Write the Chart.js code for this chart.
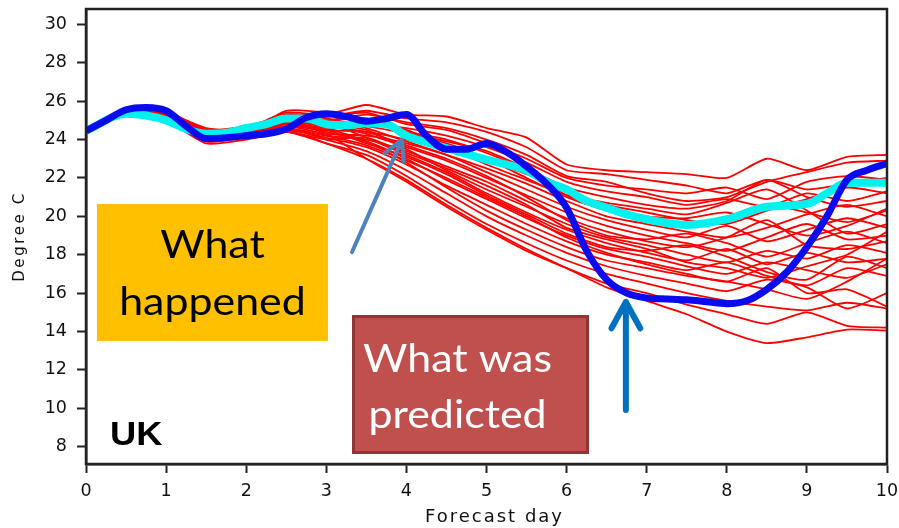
<!DOCTYPE html>
<html>
<head>
<meta charset="utf-8">
<script src="https://cdn.jsdelivr.net/npm/chart.js@4.4.1/dist/chart.umd.min.js"></script>
<style>
  html, body { margin: 0; padding: 0; background: #fff; }
  #wrap { width: 899px; height: 528px; }
</style>
</head>
<body>
<div id="wrap"><canvas id="c" width="899" height="528"></canvas></div>
<script>
// Forecast days for the ensemble members (12-hourly steps)
const days = [0, 0.5, 1, 1.5, 2, 2.5, 3, 3.5, 4, 4.5, 5, 5.5, 6, 6.5, 7, 7.5, 8, 8.5, 9, 9.5, 10];

// Observed temperature ("what happened")
const observedDays = [0, 0.25, 0.5, 0.75, 1, 1.25, 1.5, 1.75, 2, 2.25, 2.5, 2.75, 3, 3.25, 3.5, 3.75, 4, 4.25, 4.5, 4.75, 5,
  5.25, 5.5, 5.75, 6, 6.25, 6.5, 6.75, 7, 7.25, 7.5, 7.75, 8, 8.25, 8.5, 8.75, 9, 9.25, 9.5, 9.75, 10];
const observedTemp = [24.45, 25.0, 25.55, 25.67, 25.5, 24.7, 24.05, 24.1, 24.2, 24.3, 24.55, 25.15, 25.35, 25.2, 24.95, 25.1, 25.3,
  24.2, 23.5, 23.5, 23.8, 23.35, 22.6, 21.7, 20.45, 18.2, 16.7, 16.0, 15.75, 15.7, 15.65, 15.55, 15.45, 15.6, 16.2, 17.1,
  18.4, 20.0, 21.9, 22.4, 22.75];

// Ensemble mean
const meanDays = [0, 0.5, 0.75, 1, 1.25, 1.5, 1.75, 2, 2.25, 2.5, 2.75, 3, 3.25, 3.5, 3.75, 4, 4.25, 4.5, 4.75, 5, 5.25, 5.5,
  5.75, 6, 6.25, 6.5, 6.75, 7, 7.5, 8, 8.5, 9, 9.25, 9.5, 10];
const meanTemp = [24.45, 25.35, 25.25, 25.0, 24.55, 24.3, 24.35, 24.6, 24.8, 25.1, 25.1, 24.8, 24.75, 24.85, 24.8, 24.2, 23.85,
  23.55, 23.25, 22.95, 22.7, 22.4, 21.8, 21.4, 20.8, 20.45, 20.1, 19.85, 19.55, 19.85, 20.5, 20.65, 21.2, 21.75, 21.75];

// Ensemble members ("what was predicted")
const member01 = [24.45, 25.5, 25.5, 24.5, 24.6, 25.4, 25.3, 25.8, 25.3, 25.2, 24.6, 24.1, 22.7, 22.4, 22.3, 22.2, 22.0, 23.0, 22.4, 23.1, 23.2];
const member02 = [24.45, 25.4, 25.3, 24.3, 24.5, 25.3, 25.2, 25.5, 25.1, 24.9, 24.4, 23.6, 22.4, 22.2, 21.9, 21.6, 21.2, 21.9, 21.4, 21.7, 22.0];
const member03 = [24.45, 25.3, 25.1, 24.0, 24.3, 25.2, 25.0, 25.3, 24.9, 24.6, 24.0, 23.2, 22.1, 21.8, 21.2, 20.8, 21.0, 21.8, 22.3, 22.8, 22.9];
const member04 = [24.45, 25.5, 25.4, 24.6, 24.5, 24.9, 24.6, 24.8, 24.6, 24.2, 23.6, 22.8, 21.8, 21.3, 21.0, 20.6, 20.9, 20.5, 21.2, 20.8, 21.3];
const member05 = [24.45, 25.4, 25.2, 24.2, 24.4, 25.5, 25.4, 25.0, 24.4, 23.9, 23.4, 22.5, 21.5, 21.0, 20.6, 20.4, 20.8, 21.9, 21.0, 20.5, 20.8];
const member06 = [24.45, 25.3, 25.0, 23.9, 24.2, 24.8, 24.5, 24.4, 24.0, 23.5, 22.9, 22.2, 21.3, 20.6, 20.2, 19.8, 19.6, 20.3, 20.9, 21.5, 21.2];
const member07 = [24.45, 25.6, 25.5, 24.4, 24.6, 25.1, 24.9, 24.7, 24.3, 23.8, 23.0, 22.0, 21.0, 20.3, 19.9, 19.5, 19.9, 20.6, 20.2, 19.7, 20.3];
const member08 = [24.45, 25.4, 25.1, 24.1, 24.3, 24.7, 24.3, 24.2, 23.8, 23.2, 22.5, 21.7, 20.8, 20.0, 19.6, 19.2, 18.9, 19.4, 20.1, 20.6, 20.0];
const member09 = [24.45, 25.3, 25.2, 24.3, 24.5, 25.3, 25.1, 24.6, 23.9, 23.2, 22.3, 21.4, 20.5, 19.8, 19.3, 18.9, 19.5, 18.7, 19.3, 19.9, 19.4];
const member10 = [24.45, 25.5, 25.3, 24.0, 24.2, 24.9, 24.7, 24.3, 23.6, 22.9, 22.0, 21.1, 20.2, 19.5, 19.0, 18.6, 18.2, 18.9, 19.6, 18.8, 19.0];
const member11 = [24.45, 25.4, 25.2, 24.4, 24.4, 24.6, 24.2, 24.0, 23.4, 22.6, 21.8, 20.8, 19.9, 19.2, 18.7, 18.4, 18.9, 19.8, 18.5, 18.3, 18.7];
const member12 = [24.45, 25.3, 25.0, 24.0, 24.3, 25.0, 24.8, 24.5, 23.5, 22.4, 21.4, 20.5, 19.6, 18.9, 18.5, 18.0, 17.6, 18.2, 17.8, 18.5, 18.1];
const member13 = [24.45, 25.5, 25.4, 24.5, 24.7, 25.2, 24.9, 24.1, 23.2, 22.3, 21.2, 20.2, 19.3, 18.6, 18.1, 17.7, 18.3, 17.5, 18.1, 17.6, 17.8];
const member14 = [24.45, 25.4, 25.1, 24.2, 24.4, 24.8, 24.4, 23.9, 23.0, 21.9, 20.9, 19.9, 19.0, 18.3, 17.9, 17.4, 17.0, 17.6, 17.2, 16.8, 17.5];
const member15 = [24.45, 25.3, 25.2, 24.1, 24.2, 24.5, 24.1, 23.6, 22.7, 21.6, 20.6, 19.6, 18.7, 18.0, 17.6, 17.2, 17.6, 16.9, 16.4, 17.3, 16.9];
const member16 = [24.45, 25.6, 25.5, 24.4, 24.5, 25.0, 24.6, 23.9, 22.8, 21.5, 20.3, 19.3, 18.4, 17.7, 17.3, 16.9, 16.6, 16.2, 15.7, 16.6, 17.8];
const member17 = [24.45, 25.4, 25.2, 24.2, 24.3, 24.6, 24.0, 23.4, 22.4, 21.2, 20.0, 19.0, 18.1, 17.4, 16.9, 16.5, 16.1, 16.7, 16.3, 15.2, 16.0];
const member18 = [24.45, 25.3, 25.1, 23.9, 24.1, 24.4, 23.8, 23.2, 22.1, 20.8, 19.6, 18.6, 17.7, 17.0, 16.5, 16.0, 15.6, 15.3, 15.1, 15.5, 15.2];
const member19 = [24.45, 25.5, 25.3, 24.3, 24.6, 24.9, 24.3, 23.0, 21.8, 20.5, 19.3, 18.2, 17.3, 16.5, 16.0, 15.4, 14.9, 14.4, 15.0, 14.3, 14.2];
const member20 = [24.45, 25.4, 25.2, 24.1, 24.3, 24.5, 23.8, 23.0, 21.9, 20.6, 19.4, 18.3, 17.3, 16.3, 15.6, 14.9, 14.0, 13.4, 13.7, 14.1, 14.05];
const member21 = [24.45, 25.5, 25.4, 24.5, 24.6, 25.3, 25.2, 25.4, 24.8, 24.5, 23.8, 23.0, 22.0, 21.6, 21.4, 21.2, 21.5, 20.9, 21.8, 22.1, 21.9];
const member22 = [24.45, 25.3, 25.1, 24.0, 24.2, 24.7, 24.5, 24.9, 24.4, 24.0, 23.3, 22.4, 21.1, 20.4, 20.0, 19.9, 20.2, 19.6, 19.0, 19.5, 20.4];
const member23 = [24.45, 25.4, 25.3, 24.2, 24.4, 25.0, 24.7, 24.4, 23.7, 23.0, 22.1, 21.0, 19.8, 19.0, 18.8, 19.1, 18.6, 17.9, 18.6, 19.2, 18.6];
const member24 = [24.45, 25.4, 25.2, 24.3, 24.5, 24.8, 24.5, 23.8, 23.1, 22.2, 21.1, 20.1, 19.1, 18.4, 18.2, 18.5, 17.9, 17.1, 16.7, 17.9, 17.3];
const member25 = [24.45, 25.5, 25.3, 24.2, 24.3, 25.1, 25.0, 25.1, 24.5, 23.6, 22.7, 21.9, 21.1, 20.7, 20.4, 20.1, 20.7, 21.4, 20.3, 19.1, 19.6];
const member26 = [24.45, 25.3, 25.0, 23.8, 24.0, 24.4, 24.0, 24.1, 23.3, 22.5, 21.6, 20.6, 19.4, 18.8, 18.3, 17.6, 17.3, 16.8, 17.4, 18.0, 19.2];
const member27 = [24.45, 25.4, 25.2, 24.1, 24.3, 24.6, 24.2, 23.7, 22.9, 22.0, 21.0, 20.0, 18.9, 18.1, 17.5, 17.0, 16.6, 17.3, 16.0, 16.2, 15.3];
const members = [member01, member02, member03, member04, member05, member06, member07, member08, member09,
  member10, member11, member12, member13, member14, member15, member16, member17, member18, member19,
  member20, member21, member22, member23, member24, member25, member26, member27];

// Axis ticks
const xTicks = [0, 1, 2, 3, 4, 5, 6, 7, 8, 9, 10];
const yTicks = [8, 10, 12, 14, 16, 18, 20, 22, 24, 26, 28, 30];

const pairs = (xs, ys) => xs.map((x, i) => ({ x: x, y: ys[i] }));

const datasets = [
  {
    label: 'Observed',
    data: pairs(observedDays, observedTemp),
    borderColor: '#0a0aee',
    borderWidth: 7,
    cubicInterpolationMode: 'monotone',
    pointRadius: 0,
    order: 0
  },
  {
    label: 'Ensemble mean',
    data: pairs(meanDays, meanTemp),
    borderColor: '#00f2ee',
    borderWidth: 8,
    cubicInterpolationMode: 'monotone',
    pointRadius: 0,
    order: 1
  }
].concat(members.map((m, i) => ({
  label: 'Member ' + (i + 1),
  data: pairs(days, m),
  borderColor: '#ff0000',
  borderWidth: 1.8,
  tension: 0.2,
  pointRadius: 0,
  order: 2
})));

// Call-out annotations, anchored in data units
const callouts = {
  happenedBox: { x0: 0.137, x1: 3.021, y0: 20.64, y1: 13.51 },
  predictedBox: { x0: 3.321, x1: 6.28, y0: 14.86, y1: 7.62 },
  happenedArrow: { from: { x: 3.321, y: 18.14 }, to: { x: 3.944, y: 23.98 } },
  predictedArrow: { from: { x: 6.74, y: 9.91 }, to: { x: 6.74, y: 15.54 } }
};

const axisFont = '"DejaVu Sans", Verdana, sans-serif';

function stretchedText(ctx, text, cx, baseline, sx) {
  ctx.save();
  ctx.translate(cx, baseline);
  ctx.scale(sx, 1);
  ctx.textAlign = 'center';
  ctx.textBaseline = 'alphabetic';
  ctx.fillText(text, 0, 0);
  ctx.restore();
}

function arrow(ctx, x0, y0, x1, y1, color, width, head) {
  const ang = Math.atan2(y1 - y0, x1 - x0);
  ctx.save();
  ctx.strokeStyle = color;
  ctx.lineWidth = width;
  ctx.lineCap = 'round';
  ctx.lineJoin = 'round';
  ctx.beginPath();
  ctx.moveTo(x0, y0);
  ctx.lineTo(x1, y1);
  ctx.moveTo(x1 - head * Math.cos(ang - 0.5), y1 - head * Math.sin(ang - 0.5));
  ctx.lineTo(x1, y1);
  ctx.lineTo(x1 - head * Math.cos(ang + 0.5), y1 - head * Math.sin(ang + 0.5));
  ctx.stroke();
  ctx.restore();
}

const framePlugin = {
  id: 'frameAndCallouts',
  afterDraw(chart) {
    const { ctx, chartArea: a, scales: { x, y } } = chart;
    // plot frame
    ctx.save();
    ctx.strokeStyle = '#222';
    ctx.lineWidth = 2.5;
    ctx.strokeRect(a.left, a.top, a.right - a.left, a.bottom - a.top);
    ctx.restore();

    // axis titles (letter-spaced)
    ctx.save();
    ctx.fillStyle = '#111';
    ctx.letterSpacing = '2px';
    ctx.font = '18px ' + axisFont;
    ctx.textAlign = 'center';
    ctx.textBaseline = 'alphabetic';
    ctx.fillText('Forecast day', (a.left + a.right) / 2 + 8, 522);
    ctx.restore();

    ctx.save();
    ctx.fillStyle = '#111';
    ctx.letterSpacing = '2.6px';
    ctx.font = '15px ' + axisFont;
    ctx.textAlign = 'center';
    ctx.textBaseline = 'middle';
    ctx.translate(20, (a.top + a.bottom) / 2);
    ctx.rotate(-Math.PI / 2);
    ctx.fillText('Degree C', 0, 0);
    ctx.restore();

    // "UK" region label
    ctx.save();
    ctx.fillStyle = '#000';
    ctx.font = 'bold 33px "Liberation Sans", Arial, sans-serif';
    ctx.textAlign = 'left';
    ctx.translate(110, 445);
    ctx.scale(1.1, 1);
    ctx.fillText('UK', 0, 0);
    ctx.restore();

    // orange box
    const hb = callouts.happenedBox;
    const hx0 = x.getPixelForValue(hb.x0), hx1 = x.getPixelForValue(hb.x1);
    const hy0 = y.getPixelForValue(hb.y0), hy1 = y.getPixelForValue(hb.y1);
    ctx.save();
    ctx.fillStyle = '#ffc000';
    ctx.fillRect(hx0, hy0, hx1 - hx0, hy1 - hy0);
    ctx.fillStyle = '#000';
    ctx.font = '39px Lato, "Open Sans", sans-serif';
    const hcx = (hx0 + hx1) / 2;
    stretchedText(ctx, 'What', hcx, hy0 + 54, 1.1);
    stretchedText(ctx, 'happened', hcx, hy0 + 111, 1.1);
    ctx.restore();

    // red box
    const pb = callouts.predictedBox;
    const px0 = x.getPixelForValue(pb.x0), px1 = x.getPixelForValue(pb.x1);
    const py0 = y.getPixelForValue(pb.y0), py1 = y.getPixelForValue(pb.y1);
    ctx.save();
    ctx.fillStyle = '#c0504d';
    ctx.strokeStyle = '#8c3836';
    ctx.lineWidth = 3;
    ctx.fillRect(px0, py0, px1 - px0, py1 - py0);
    ctx.strokeRect(px0 + 1.5, py0 + 1.5, px1 - px0 - 3, py1 - py0 - 3);
    ctx.fillStyle = '#fff';
    ctx.font = '39px Lato, "Open Sans", sans-serif';
    const pcx = (px0 + px1) / 2 - 13;
    stretchedText(ctx, 'What was', pcx, py0 + 57, 1.1);
    stretchedText(ctx, 'predicted', pcx, py0 + 113, 1.1);
    ctx.restore();

    // arrows
    const ha = callouts.happenedArrow;
    arrow(ctx, x.getPixelForValue(ha.from.x), y.getPixelForValue(ha.from.y),
      x.getPixelForValue(ha.to.x), y.getPixelForValue(ha.to.y), '#4f81bd', 4, 22);
    const pa = callouts.predictedArrow;
    arrow(ctx, x.getPixelForValue(pa.from.x), y.getPixelForValue(pa.from.y),
      x.getPixelForValue(pa.to.x), y.getPixelForValue(pa.to.y), '#0070c0', 6, 30);
  }
};

new Chart(document.getElementById('c'), {
  type: 'line',
  data: { datasets: datasets },
  options: {
    responsive: false,
    devicePixelRatio: 1,
    animation: false,
    layout: { padding: { top: 9, right: 12, left: 0, bottom: 0 } },
    plugins: { legend: { display: false }, tooltip: { enabled: false } },
    scales: {
      x: {
        type: 'linear',
        min: 0,
        max: 10,
        afterBuildTicks: s => { s.ticks = xTicks.map(v => ({ value: v })); },
        afterFit: s => { s.height = 64; s.paddingLeft = 0; s.paddingRight = 0; },
        ticks: { font: { family: axisFont, size: 17.5 }, color: '#111', padding: 8, maxRotation: 0, autoSkip: false },
        grid: { drawOnChartArea: false, drawTicks: true, tickLength: 9, tickWidth: 2, tickColor: '#222' },
        border: { color: '#222', width: 2.5 },
        title: { display: false }
      },
      y: {
        type: 'linear',
        min: 7.1,
        max: 30.8,
        afterBuildTicks: s => { s.ticks = yTicks.map(v => ({ value: v })); },
        afterFit: s => { s.width = 86; s.paddingTop = 0; s.paddingBottom = 0; },
        ticks: { font: { family: axisFont, size: 17.5 }, color: '#111', padding: 10, autoSkip: false },
        grid: { drawOnChartArea: false, drawTicks: true, tickLength: 9, tickWidth: 2, tickColor: '#222' },
        border: { color: '#222', width: 2.5 },
        title: { display: false }
      }
    }
  },
  plugins: [framePlugin]
});
</script>
</body>
</html>
